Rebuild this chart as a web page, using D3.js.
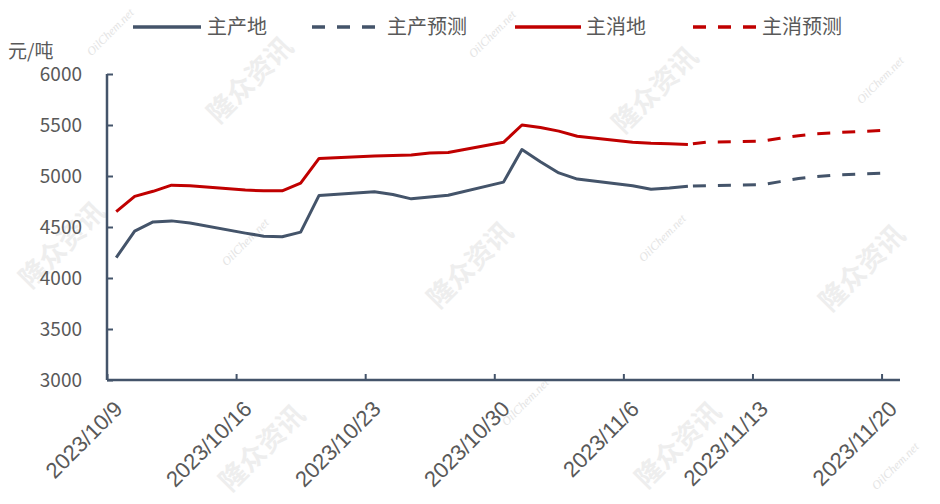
<!DOCTYPE html>
<html><head><meta charset="utf-8">
<script src="https://cdn.jsdelivr.net/npm/d3@7/dist/d3.min.js"></script>
<style>
html,body{margin:0;padding:0;background:#fff;}
svg{display:block;font-family:"Noto Sans CJK SC","Noto Sans",sans-serif;}
</style></head>
<body><svg id="c" width="940" height="504"></svg>
<script>
// ---- data ----
const actualDates = ["2023/10/9","2023/10/10","2023/10/11","2023/10/12","2023/10/13","2023/10/16","2023/10/17","2023/10/18","2023/10/19","2023/10/20","2023/10/23","2023/10/24","2023/10/25","2023/10/26","2023/10/27","2023/10/30","2023/10/31","2023/11/1","2023/11/2","2023/11/3","2023/11/6","2023/11/7","2023/11/8","2023/11/9"];
const prodActual = [4200,4460,4550,4560,4540,4440,4410,4405,4450,4810,4845,4818,4776,4795,4812,4940,5260,5140,5030,4970,4905,4870,4882,4900];
const consActual = [4650,4800,4850,4910,4905,4862,4855,4855,4930,5172,5195,5200,5205,5225,5230,5330,5500,5475,5440,5390,5330,5320,5315,5310];
const forecastDates = ["2023/11/9","2023/11/10","2023/11/13","2023/11/14","2023/11/15","2023/11/16","2023/11/17","2023/11/20"];
const prodForecast = [4900,4905,4915,4945,4975,4995,5010,5030];
const consForecast = [5310,5332,5342,5370,5395,5415,5425,5450];
const xTickLabels = ["2023/10/9","2023/10/16","2023/10/23","2023/10/30","2023/11/6","2023/11/13","2023/11/20"];
const yTicks = [3000,3500,4000,4500,5000,5500,6000];
const seriesNames = ["主产地","主产预测","主消地","主消预测"];
const unitLabel = "元/吨";

// ---- setup ----
const parse = d3.timeParse("%Y/%m/%d");
const svg = d3.select("#c");
const GRAY = "#44546A", RED = "#C00000", TXT = "#595959";
const x = d3.scaleTime()
  .domain([parse("2023/10/9"), d3.timeDay.offset(parse("2023/11/20"), 1)])
  .range([107, 900]);
const y = d3.scaleLinear().domain([3000, 6000]).range([380, 74]);
const mid = d => d3.timeHour.offset(parse(d), 12);

// watermarks
const wmCn = [[250,80],[655,90],[62,245],[470,265],[862,268],[262,448],[678,445]];
const wmEn = [[110,32],[492,34],[880,80],[245,242],[662,238],[525,402],[895,466]];
const wm = svg.append("g");
wmCn.forEach(p => wm.append("text").attr("transform",`translate(${p[0]},${p[1]}) rotate(-45)`)
  .attr("text-anchor","middle").attr("dy","0.35em").attr("font-size",27).attr("font-weight","bold")
  .attr("fill","#eeeeee").text("隆众资讯"));
wmEn.forEach(p => wm.append("text").attr("transform",`translate(${p[0]},${p[1]}) rotate(-45)`)
  .attr("text-anchor","middle").attr("dy","0.35em").attr("font-size",12).attr("font-style","italic")
  .attr("font-family","Liberation Serif,serif").attr("fill","#e4e4e4").text("OilChem.net"));

// axes
const yAxis = svg.append("g").attr("transform","translate(107,0)")
  .call(d3.axisLeft(y).tickValues(yTicks).tickSize(-6).tickPadding(25).tickFormat(d3.format("d")));
const xAxis = svg.append("g").attr("transform","translate(0,380)")
  .call(d3.axisBottom(x).tickValues(xTickLabels.map(parse)).tickSize(-6).tickFormat(""));
[yAxis,xAxis].forEach(g=>{
  g.select(".domain").attr("stroke",GRAY).attr("stroke-width",2.5);
  g.selectAll(".tick line").attr("stroke",GRAY).attr("stroke-width",2);
});
yAxis.select(".domain").attr("d","M0,74V380");
xAxis.select(".domain").attr("d","M107,0H900");
yAxis.selectAll(".tick text").attr("fill",TXT).attr("font-size",19)
  .attr("font-family","Noto Sans CJK SC,sans-serif");
xAxis.selectAll(".tick").each(function(d,i){
  d3.select(this).append("text").attr("transform","translate(11,25) rotate(-45)")
    .attr("text-anchor","end").attr("dy","0.35em").attr("fill",TXT).attr("font-size",22)
    .text(xTickLabels[i]);
});
svg.append("text").attr("x",8).attr("y",58).attr("fill",TXT).attr("font-size",19).text(unitLabel);

// lines
const line = d3.line().x(d=>x(mid(d[0]))).y(d=>y(d[1]));
const draw = (dates, vals, color, dashed) => svg.append("path")
  .datum(dates.map((d,i)=>[d, vals[i]])).attr("d", line).attr("fill","none")
  .attr("stroke",color).attr("stroke-width",3).attr("stroke-linejoin","round")
  .attr("stroke-dasharray", dashed ? "13,12" : null).attr("stroke-dashoffset", dashed ? 20 : null);
draw(actualDates, prodActual, GRAY, false);
draw(forecastDates, prodForecast, GRAY, true);
draw(actualDates, consActual, RED, false);
draw(forecastDates, consForecast, RED, true);

// legend
const legendItems = [
  {x0:133, x1:201, tx:207, color:GRAY, dashed:false},
  {x0:312, x1:378, tx:387, color:GRAY, dashed:true},
  {x0:515, x1:581, tx:586, color:RED, dashed:false},
  {x0:693, x1:756, tx:762, color:RED, dashed:true}
];
const lg = svg.append("g");
legendItems.forEach((it,i)=>{
  lg.append("line").attr("x1",it.x0).attr("x2",it.x1).attr("y1",27).attr("y2",27)
    .attr("stroke",it.color).attr("stroke-width",3.5)
    .attr("stroke-dasharray", it.dashed ? "13,12" : null);
  lg.append("text").attr("x",it.tx).attr("y",27).attr("dy","0.35em").attr("fill",TXT)
    .attr("font-size",20).text(seriesNames[i]);
});
</script></body></html>
